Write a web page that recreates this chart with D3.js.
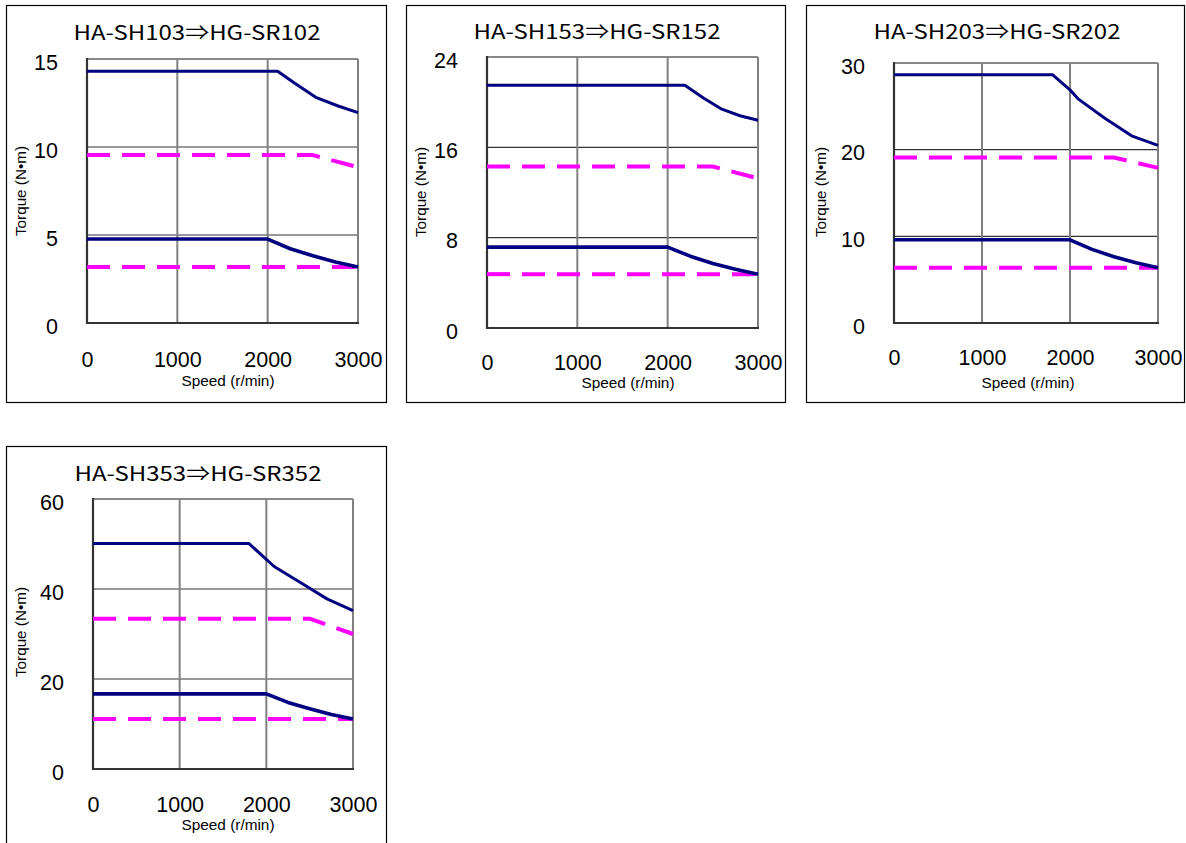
<!DOCTYPE html>
<html>
<head>
<meta charset="utf-8">
<script src="https://cdn.jsdelivr.net/npm/d3@7"></script>
<style>
  html, body { margin: 0; padding: 0; background: #fff; }
  svg { display: block; }
</style>
</head>
<body>
<svg id="chart" width="1186" height="843"></svg>
<script>
// ---------- DATA ----------
const speedTicks = [0, 1000, 2000, 3000];
const titles = ["HA-SH103\u21D2HG-SR102", "HA-SH153\u21D2HG-SR152", "HA-SH203\u21D2HG-SR202", "HA-SH353\u21D2HG-SR352"];
const yTicks1 = [0, 5, 10, 15];
const yTicks2 = [0, 8, 16, 24];
const yTicks3 = [0, 10, 20, 30];
const yTicks4 = [0, 20, 40, 60];

// [speed r/min, torque N·m]
const hgMax1   = [[0, 14.3], [2110, 14.3], [2300, 13.62], [2540, 12.8], [2780, 12.33], [3000, 11.95]];
const hgRated1 = [[0, 4.77], [2000, 4.77], [2250, 4.22], [2500, 3.82], [2750, 3.47], [3000, 3.18]];
const haMax1   = [[0, 9.54], [2500, 9.54], [3000, 8.85]];
const haRated1 = [[0, 3.18], [3000, 3.18]];

const hgMax2   = [[0, 21.5], [2190, 21.5], [2400, 20.35], [2600, 19.38], [2800, 18.8], [3000, 18.4]];
const hgRated2 = [[0, 7.16], [2000, 7.16], [2250, 6.36], [2500, 5.72], [2750, 5.2], [3000, 4.77]];
const haMax2   = [[0, 14.3], [2500, 14.3], [3000, 13.25]];
const haRated2 = [[0, 4.77], [3000, 4.77]];

const hgMax3   = [[0, 28.65], [1800, 28.65], [2000, 26.9], [2100, 25.8], [2400, 23.6], [2700, 21.6], [3000, 20.5]];
const hgRated3 = [[0, 9.6], [2000, 9.6], [2250, 8.5], [2500, 7.65], [2750, 6.95], [3000, 6.37]];
const haMax3   = [[0, 19.1], [2500, 19.1], [3000, 17.9]];
const haRated3 = [[0, 6.37], [3000, 6.37]];

const hgMax4   = [[0, 50.1], [1800, 50.1], [2090, 45.0], [2440, 40.9], [2700, 37.8], [3000, 35.2]];
const hgRated4 = [[0, 16.7], [2000, 16.7], [2250, 14.8], [2500, 13.4], [2750, 12.1], [3000, 11.1]];
const haMax4   = [[0, 33.4], [2500, 33.4], [3000, 30.0]];
const haRated4 = [[0, 11.1], [3000, 11.1]];

const xLabel = "Speed (r/min)";
const yLabel = "Torque (N\u2022m)";

// ---------- LAYOUT ----------
const panels = [
  { title: titles[0], yTicks: yTicks1, series: [hgMax1, hgRated1, haMax1, haRated1],
    frame: [6.5, 5.5, 380, 397], plot: [87, 358, 59, 323], titlePos: [197, 40],
    yLabRight: 58, xLabBase: 367, speedPos: [228, 386], torquePos: [26, 191] },
  { title: titles[1], yTicks: yTicks2, series: [hgMax2, hgRated2, haMax2, haRated2],
    frame: [406.5, 5.5, 379, 397], plot: [487, 758, 57, 328], titlePos: [597, 39],
    yLabRight: 458, xLabBase: 370, speedPos: [628, 388], torquePos: [426, 192] },
  { title: titles[2], yTicks: yTicks3, series: [hgMax3, hgRated3, haMax3, haRated3],
    frame: [806.5, 5.5, 378, 397], plot: [894, 1158, 63, 323], titlePos: [997, 39],
    yLabRight: 865, xLabBase: 365, speedPos: [1028, 388], torquePos: [826, 192] },
  { title: titles[3], yTicks: yTicks4, series: [hgMax4, hgRated4, haMax4, haRated4],
    frame: [6.5, 446.5, 380, 420], plot: [93, 353, 499, 769], titlePos: [198, 481],
    yLabRight: 64, xLabBase: 812, speedPos: [228, 830], torquePos: [26, 632] }
];

const NAVY = "#000080", MAGENTA = "#ff00ff";
const seriesStyle = [
  { color: NAVY, width: 3, dash: null },
  { color: NAVY, width: 3.6, dash: null },
  { color: MAGENTA, width: 4, dash: "23,12" },
  { color: MAGENTA, width: 4, dash: "23,12" }
];

const svg = d3.select("#chart");
const numFont = "'Liberation Sans', Arial, sans-serif";

panels.forEach(p => {
  const [l, r, t, b] = p.plot;
  const x = d3.scaleLinear().domain([0, 3000]).range([l, r]);
  const y = d3.scaleLinear().domain([0, d3.max(p.yTicks)]).range([b, t]);
  const g = svg.append("g");

  // frame
  g.append("rect").attr("x", p.frame[0]).attr("y", p.frame[1])
    .attr("width", p.frame[2]).attr("height", p.frame[3])
    .attr("fill", "#fff").attr("stroke", "#000").attr("stroke-width", 1.2);

  // title
  g.append("text").attr("x", p.titlePos[0]).attr("y", p.titlePos[1])
    .attr("text-anchor", "middle")
    .attr("font-family", "'Noto Sans CJK JP', 'Noto Sans', sans-serif")
    .attr("font-size", 20).attr("fill", "#000")
    .attr("textLength", 247).attr("lengthAdjust", "spacingAndGlyphs")
    .text(p.title);

  // horizontal grid lines (internal)
  const yMax = d3.max(p.yTicks);
  g.append("g").selectAll("line").data(p.yTicks.filter(v => v > 0 && v < yMax)).join("line")
    .attr("x1", l).attr("x2", r).attr("y1", d => y(d)).attr("y2", d => y(d))
    .attr("stroke", "#333").attr("stroke-width", 1.2);
  // top line
  g.append("line").attr("x1", l).attr("x2", r).attr("y1", y(yMax)).attr("y2", y(yMax))
    .attr("stroke", "#888").attr("stroke-width", 2);
  // vertical grid lines
  g.append("g").selectAll("line").data(speedTicks.filter(v => v > 0)).join("line")
    .attr("x1", d => x(d)).attr("x2", d => x(d)).attr("y1", t).attr("y2", b)
    .attr("stroke", "#808080").attr("stroke-width", 2);
  // axes lines (left & bottom)
  g.append("line").attr("x1", l).attr("x2", l).attr("y1", t - 1).attr("y2", b + 1)
    .attr("stroke", "#333").attr("stroke-width", 2.2);
  g.append("line").attr("x1", l - 1).attr("x2", r + 1).attr("y1", b).attr("y2", b)
    .attr("stroke", "#333").attr("stroke-width", 2.2);

  // y axis tick labels
  const ya = g.append("g").attr("transform", `translate(${p.yLabRight},0)`)
    .call(d3.axisLeft(y).tickValues(p.yTicks).tickSize(0).tickPadding(0).tickFormat(d3.format("d")));
  ya.select(".domain").remove();
  ya.selectAll("text").attr("font-family", numFont).attr("font-size", 21.5)
    .attr("fill", "#000").attr("dy", "0.48em");

  // x axis tick labels
  const xa = g.append("g").attr("transform", `translate(0,${p.xLabBase})`)
    .call(d3.axisBottom(x).tickValues(speedTicks).tickSize(0).tickPadding(0).tickFormat(d3.format("d")));
  xa.select(".domain").remove();
  xa.selectAll("text").attr("font-family", numFont).attr("font-size", 21.5)
    .attr("fill", "#000").attr("y", 0).attr("dy", 0);

  // axis titles
  g.append("text").attr("x", p.speedPos[0]).attr("y", p.speedPos[1])
    .attr("text-anchor", "middle").attr("font-family", numFont).attr("font-size", 15)
    .attr("textLength", 93).attr("lengthAdjust", "spacingAndGlyphs")
    .attr("fill", "#000").text(xLabel);
  g.append("text").attr("transform", `translate(${p.torquePos[0]},${p.torquePos[1]}) rotate(-90)`)
    .attr("text-anchor", "middle").attr("font-family", numFont).attr("font-size", 15)
    .attr("textLength", 90).attr("lengthAdjust", "spacingAndGlyphs")
    .attr("fill", "#000").text(yLabel);

  // curves
  const line = d3.line().x(d => x(d[0])).y(d => y(d[1]));
  // draw dashed (HA-SH) first, then HG-SR solid on top
  [2, 3, 0, 1].forEach(i => {
    const s = seriesStyle[i];
    g.append("path").datum(p.series[i]).attr("d", line)
      .attr("fill", "none").attr("stroke", s.color).attr("stroke-width", s.width)
      .attr("stroke-linejoin", "round")
      .attr("stroke-dasharray", s.dash);
  });
});
</script>
</body>
</html>
